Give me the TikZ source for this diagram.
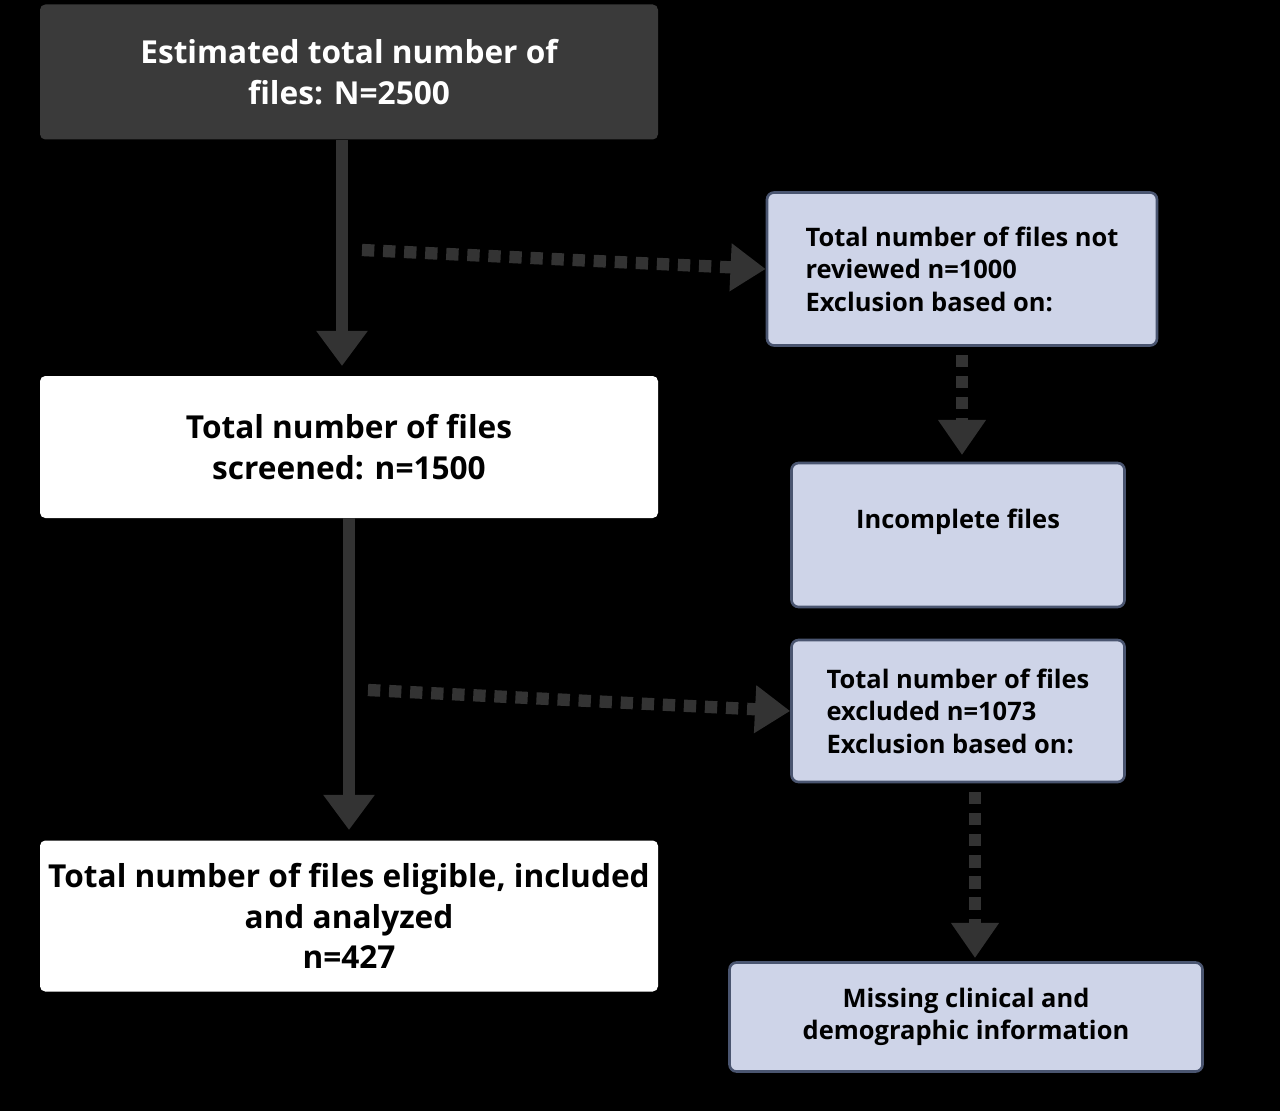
\documentclass[tikz,border=0pt]{standalone}
\usepackage{fontspec}
\setmainfont{Open Sans}
\usetikzlibrary{arrows.meta,positioning}
\definecolor{boxdark}{HTML}{3A3A3A}
\definecolor{boxblue}{HTML}{CED4E8}
\definecolor{edgeblue}{HTML}{4A5570}
\definecolor{arrowgray}{HTML}{333333}
\tikzset{
  bigbox/.style={rectangle, rounded corners=3pt, fill=white, align=center,
    font=\fontsize{18}{23}\selectfont\bfseries, inner sep=0pt},
  sidebox/.style={rectangle, rounded corners=4pt, fill=boxblue, draw=edgeblue,
    line width=1.5pt, font=\fontsize{14.5}{18.5}\selectfont\bfseries, inner sep=0pt},
  mainflow/.style={arrowgray, line width=7pt, -{Triangle[length=20pt,width=28pt]}},
  sideflow/.style={arrowgray, line width=7pt, dash pattern=on 7pt off 5pt,
    -{Triangle[length=20pt,width=26pt]}}
}
\begin{document}
\begin{tikzpicture}[x=0.02cm,y=-0.02cm]
\fill[black] (0,0) rectangle (1280,1111);
\useasboundingbox (0,0) rectangle (1280,1111);

% left column
\node[bigbox, fill=boxdark, text=white, minimum width=618*0.02cm, minimum height=135*0.02cm]
  (est) at (349,72) {Estimated total number of\\files: N=2500};
\node[bigbox, minimum width=618*0.02cm, minimum height=142*0.02cm]
  (scr) at (349,447) {Total number of files\\screened: n=1500};
\node[bigbox, minimum width=618*0.02cm, minimum height=151*0.02cm]
  (elig) at (349,916) {Total number of files eligible, included\\and analyzed\\n=427};

% right column
\node[sidebox, minimum width=390*0.02cm, minimum height=153*0.02cm, align=left]
  (notrev) at (962,269) {Total number of files not\\reviewed n=1000\\Exclusion based on:};
\node[sidebox, minimum width=333*0.02cm, minimum height=144*0.02cm, align=center]
  (incomp) at (958,535) {\raisebox{18pt}{Incomplete files}};
\node[sidebox, minimum width=333*0.02cm, minimum height=142*0.02cm, align=left]
  (excl) at (958,711) {Total number of files\\excluded n=1073\\Exclusion based on:};
\node[sidebox, minimum width=473*0.02cm, minimum height=109*0.02cm, align=center]
  (miss) at (966,1017) {Missing clinical and\\demographic information};

% connectors
\coordinate (d1) at (342,250);
\coordinate (d2) at (349,690);
\draw[mainflow] (est.south -| 342,0) -- (342,366);
\draw[mainflow] (scr.south) -- (349,830);
\draw[sideflow] (362,250) -- (notrev.west);
\draw[sideflow] (368,690) -- (excl.west);
\draw[sideflow] (notrev.south) ++(0,8) -- (962,455);
\draw[sideflow] (975,792) -- (975,958);
\end{tikzpicture}
\end{document}
